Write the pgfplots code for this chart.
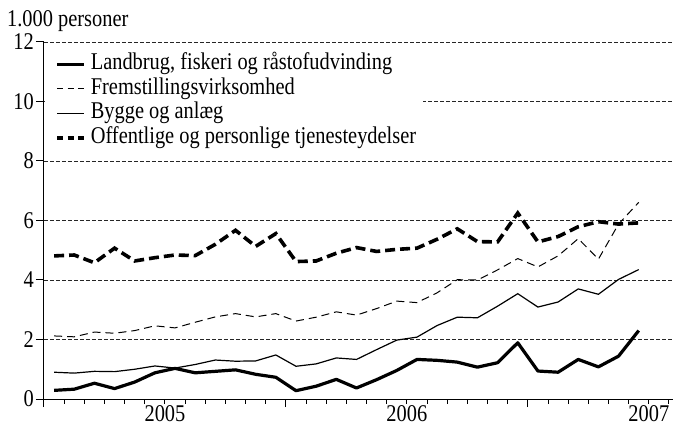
\documentclass[border=0pt]{standalone}
\usepackage{fontspec}
\setmainfont{Liberation Serif}[FakeStretch=0.85]
\usepackage{pgfplots}
\pgfplotsset{compat=1.18}

\pgfplotstableread{
x landbrug fremst bygge offent
0.5 0.29 2.12 0.90 4.81
1.5 0.33 2.09 0.87 4.84
2.5 0.53 2.25 0.93 4.58
3.5 0.35 2.21 0.92 5.07
4.5 0.57 2.30 1.00 4.64
5.5 0.88 2.46 1.11 4.75
6.5 1.03 2.39 1.04 4.84
7.5 0.88 2.58 1.16 4.82
8.5 0.93 2.76 1.31 5.20
9.5 0.98 2.87 1.27 5.67
10.5 0.83 2.76 1.28 5.13
11.5 0.73 2.87 1.48 5.56
12.5 0.28 2.62 1.10 4.62
13.5 0.43 2.75 1.18 4.64
14.5 0.66 2.93 1.38 4.90
15.5 0.37 2.82 1.33 5.09
16.5 0.65 3.04 1.66 4.96
17.5 0.96 3.29 1.98 5.03
18.5 1.33 3.24 2.08 5.07
19.5 1.30 3.57 2.47 5.37
20.5 1.24 4.01 2.75 5.72
21.5 1.07 4.00 2.73 5.29
22.5 1.22 4.34 3.12 5.28
23.5 1.89 4.72 3.54 6.25
24.5 0.94 4.44 3.09 5.28
25.5 0.90 4.81 3.26 5.46
26.5 1.33 5.39 3.70 5.79
27.5 1.08 4.70 3.52 5.96
28.5 1.44 5.88 4.02 5.88
29.5 2.30 6.61 4.35 5.92
}\datatable

\begin{document}
\begin{tikzpicture}[font=\fontsize{24}{28}\selectfont]
\path[use as bounding box] (-44pt,-27pt) rectangle (629pt,399pt);
\begin{axis}[
  scale only axis, width=629pt, height=357pt,
  xmin=0, xmax=31.2, ymin=0, ymax=12,
  axis x line=bottom, axis y line=left,
  axis line style={-, line width=1pt, black},
  every tick/.style={black, line width=1pt},
  tick align=outside,
  major tick length=8pt, minor tick length=4.5pt,
  xtick={0,12,24}, xticklabels={,,},
  minor xtick={1,...,31},
  extra x ticks={6,18,30}, extra x tick labels={2005,2006,2007},
  extra x tick style={major tick length=0pt, xmajorgrids=false},
  ytick={0,2,...,12},
  ymajorgrids,
  grid style={line width=0.9pt, black!85, dash pattern=on 4pt off 2pt},
  /pgf/number format/assume math mode=true,
  yticklabel style={inner sep=2pt},
  xticklabel style={inner sep=6pt},
  legend style={draw=none, fill=none, at={(0.0175,0.9716)}, anchor=north west,
    inner sep=0pt, row sep=0pt, column sep=2pt,
    nodes={inner xsep=3pt, inner ysep=2.5pt, text height=15pt, text depth=4.4pt}},
  legend cell align=left,
  legend image code/.code={\draw[#1] (0pt,0pt) -- (27pt,0pt);},
]
\fill[white] (rel axis cs:0.0016,0.697) rectangle (rel axis cs:0.6025,0.986);
\addlegendimage{black, line width=3.2pt}
\addlegendentry{Landbrug, fiskeri og råstofudvinding}
\addlegendimage{black, line width=1pt, dash pattern=on 6pt off 4.5pt}
\addlegendentry{Fremstillingsvirksomhed}
\addlegendimage{black, line width=1.2pt}
\addlegendentry{Bygge og anlæg}
\addlegendimage{black, line width=3.6pt, dash pattern=on 6pt off 4.5pt}
\addlegendentry{Offentlige og personlige tjenesteydelser}
\addplot[black, line width=1pt, dash pattern=on 8pt off 5pt, forget plot] table[x=x, y=fremst] {\datatable};
\addplot[black, line width=1.2pt, forget plot] table[x=x, y=bygge] {\datatable};
\addplot[black, line width=3.6pt, dash pattern=on 10pt off 5pt, forget plot] table[x=x, y=offent] {\datatable};
\addplot[black, line width=3.2pt, line join=round, forget plot] table[x=x, y=landbrug] {\datatable};
\end{axis}
\node[anchor=base west, inner sep=0pt] at (-37pt,372pt) {1.000 personer};
\end{tikzpicture}
\end{document}
